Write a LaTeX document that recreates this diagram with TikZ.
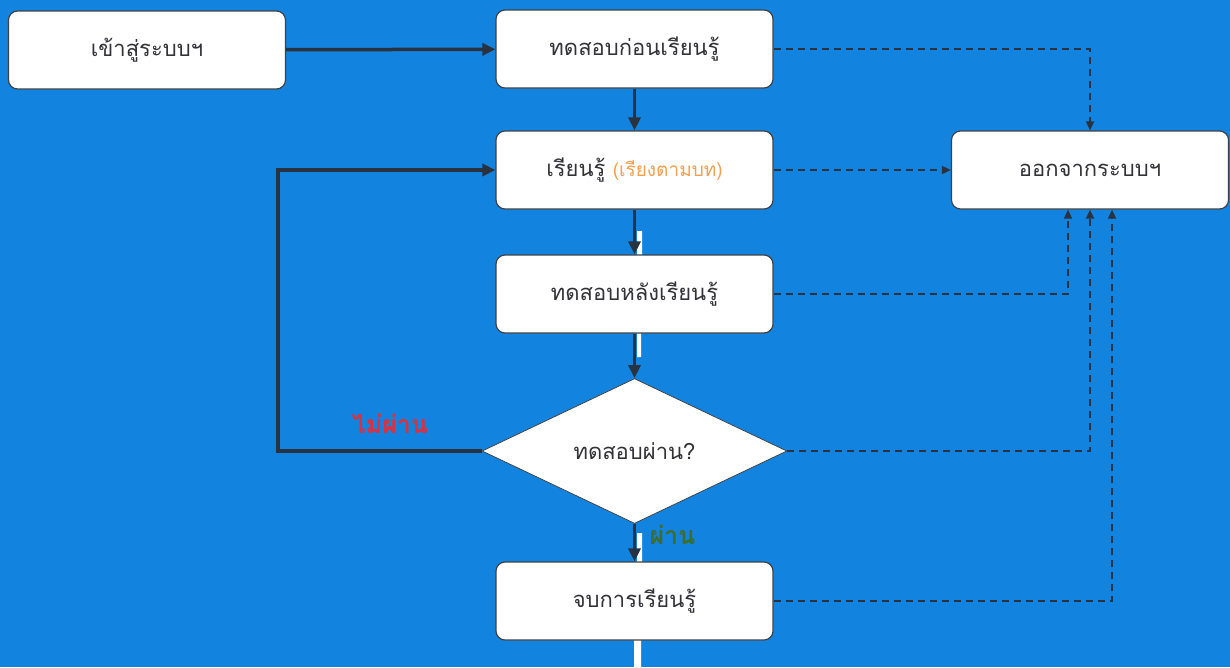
\documentclass[tikz,border=0pt]{standalone}
\usepackage{fontspec}
\newfontfamily\thaifont[Script=Thai]{Loma}
\usetikzlibrary{arrows.meta,shapes.geometric}
\definecolor{bgblue}{RGB}{18,132,224}
\definecolor{boxline}{RGB}{62,66,72}
\definecolor{linedark}{RGB}{40,50,64}
\definecolor{txtgray}{RGB}{50,50,55}
\definecolor{chapter}{RGB}{245,160,80}
\definecolor{failred}{RGB}{222,48,60}
\definecolor{passgreen}{RGB}{64,108,44}

\begin{document}
\begin{tikzpicture}[x=1pt,y=-1pt,
   font=\thaifont\fontsize{22}{26}\selectfont,
    box/.style = {rectangle, rounded corners=9pt, fill=white,% steps of the lesson
                  draw=boxline, line width=1.2pt, text=txtgray,
                  minimum width=277pt, minimum height=78pt},
    dec/.style = {diamond, fill=white, draw=boxline, line width=0.8pt,% the test
                  text=txtgray, inner sep=0pt,
                  minimum width=305pt, minimum height=145pt},
     go/.style = {line width=3.5pt, draw=linedark,
                  -{Triangle[length=13pt,width=12pt]}},
   quit/.style = {line width=1.6pt, draw=linedark, dash pattern=on 7pt off 5pt,
                  -{Triangle[length=9pt,width=8pt]}},
  label/.style = {font=\thaifont\bfseries\fontsize{25}{28}\selectfont},
                        ]
\fill[bgblue] (0,0) rectangle (1230,667);
\fill[white] (637,231) rectangle (642,255)% gaps in the scan
             (637,333) rectangle (641,357)
             (637,533) rectangle (642,562)
             (634,640) rectangle (641,667);
\node[box] (login)  at (147,50)    {เข้าสู่ระบบฯ};
\node[box] (pre)    at (634.5,49)  {ทดสอบก่อนเรียนรู้};
\node[box] (learn)  at (634.5,170) {เรียนรู้ {\color{chapter}\fontsize{19}{22}\selectfont (เรียงตามบท)}};
\node[box] (post)   at (634.5,294) {ทดสอบหลังเรียนรู้};
\node[dec] (passed) at (634.5,451) {ทดสอบผ่าน?};
\node[box] (finish) at (634.5,601) {จบการเรียนรู้};
\node[box] (logout) at (1090,170)  {ออกจากระบบฯ};
\coordinate (back) at (278,451);
% main path
\draw[go] (login) -- (pre);
\draw[go] (pre) -- (learn);
\draw[go] (learn) -- (post);
\draw[go] (post) -- (passed);
\draw[go] (passed) -- node[pos=0.3,right=10pt,label,text=passgreen] {ผ่าน} (finish);
\draw[go] (passed) -- node[pos=0.45,above=12pt,label,text=failred] {ไม่ผ่าน} (back) |- (learn);
% ways out
\draw[quit] (pre) -| (logout);
\draw[quit] (learn) -- (logout);
\draw[quit] (post) -| ([xshift=-22pt]logout.south);
\draw[quit] (passed) -| (logout);
\draw[quit] (finish) -| ([xshift=22pt]logout.south);
\end{tikzpicture}
\end{document}
